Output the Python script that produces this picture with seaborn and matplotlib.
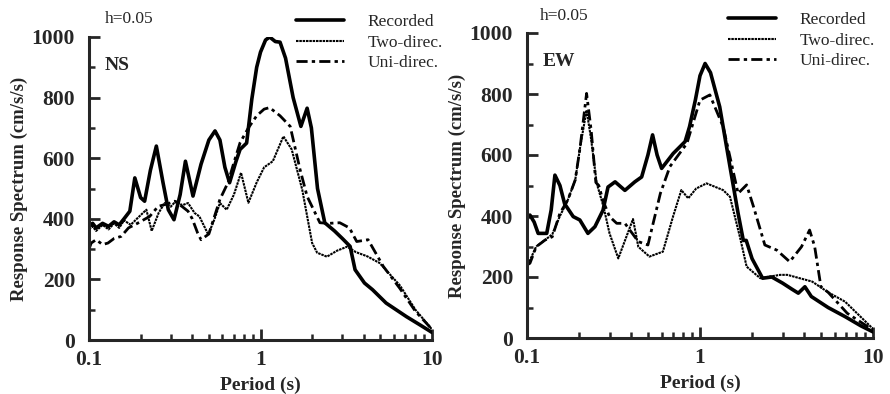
import numpy as np
import pandas as pd
import matplotlib
matplotlib.use("Agg")
import matplotlib.pyplot as plt
import seaborn as sns
from matplotlib.ticker import FixedLocator, LogLocator, NullFormatter, MultipleLocator

# ---------------- data ----------------
ns_rec_T = [0.10, 0.105, 0.11, 0.12, 0.13, 0.14, 0.15, 0.16, 0.173, 0.185, 0.20, 0.211, 0.228, 0.247,
            0.27, 0.29, 0.313, 0.34, 0.365, 0.385, 0.404, 0.45, 0.50, 0.543, 0.58, 0.62, 0.66, 0.72,
            0.76, 0.83, 0.89, 0.95, 1.0, 1.07, 1.13, 1.22, 1.30, 1.40, 1.55, 1.72, 1.87, 1.98, 2.15,
            2.37, 2.7, 3.0, 3.33, 3.56, 4.04, 4.5, 5.4, 7.1, 8.5, 10.0]
ns_rec_v = [375, 385, 370, 385, 375, 390, 380, 400, 425, 535, 470, 458, 560, 640,
            520, 430, 397, 480, 590, 530, 475, 580, 660, 690, 660, 570, 519, 590,
            629, 650, 795, 900, 950, 990, 1000, 985, 983, 930, 800, 705, 765, 700, 500,
            387, 360, 335, 309, 232, 188, 166, 122, 77, 50, 25]

ns_two_T = [0.10, 0.105, 0.11, 0.12, 0.13, 0.14, 0.15, 0.16, 0.175, 0.19, 0.216, 0.232, 0.255, 0.276,
            0.30, 0.32, 0.35, 0.378, 0.413, 0.44, 0.496, 0.54, 0.58, 0.635, 0.70, 0.77, 0.85, 0.95,
            1.05, 1.18, 1.36, 1.52, 1.75, 2.0, 2.14, 2.44, 2.8, 3.2, 3.6, 4.2, 4.95, 6.5, 8.0, 10.0]
ns_two_v = [365, 375, 360, 380, 365, 385, 370, 395, 380, 400, 430, 360, 420, 452,
            440, 458, 445, 452, 419, 408, 348, 400, 452, 430, 480, 552, 453, 520,
            570, 590, 672, 629, 497, 320, 288, 275, 295, 308, 290, 276, 254, 180, 100, 35]

ns_uni_T = [0.10, 0.103, 0.11, 0.12, 0.129, 0.14, 0.154, 0.17, 0.193, 0.226, 0.253, 0.29, 0.316,
            0.35, 0.378, 0.40, 0.43, 0.45, 0.50, 0.58, 0.647, 0.69, 0.76, 0.85, 0.95, 1.05, 1.13,
            1.3, 1.49, 1.7, 1.87, 2.22, 2.5, 2.9, 3.3, 3.64, 4.24, 5.2, 6.5, 8.0, 10.0]
ns_uni_v = [300, 320, 331, 315, 320, 335, 342, 370, 386, 408, 441, 450, 458,
            440, 425, 400, 353, 331, 350, 464, 520, 574, 651, 700, 740, 762, 767,
            740, 705, 563, 474, 387, 385, 387, 370, 325, 331, 243, 170, 95, 35]

ew_rec_T = [0.10, 0.104, 0.11, 0.116, 0.13, 0.138, 0.145, 0.155, 0.165, 0.185, 0.202, 0.225, 0.247,
            0.275, 0.294, 0.323, 0.368, 0.42, 0.46, 0.50, 0.532, 0.565, 0.60, 0.70, 0.82, 0.87,
            0.94, 1.0, 1.07, 1.15, 1.3, 1.49, 1.66, 1.78, 1.85, 2.0, 2.3, 2.6, 3.0, 3.4, 3.7,
            4.04, 4.4, 5.5, 6.9, 8.5, 10.0]
ew_rec_v = [390, 403, 380, 343, 343, 420, 534, 500, 440, 398, 387, 343, 365,
            419, 495, 512, 484, 512, 528, 600, 666, 600, 556, 605, 644, 693,
            780, 860, 900, 870, 758, 562, 409, 320, 320, 260, 196, 200, 180, 160, 147,
            168, 136, 100, 70, 40, 20]

ew_two_T = [0.10, 0.105, 0.113, 0.127, 0.14, 0.155, 0.172, 0.19, 0.203, 0.221, 0.235, 0.253, 0.277,
            0.30, 0.337, 0.38, 0.41, 0.44, 0.51, 0.61, 0.70, 0.78, 0.855, 0.95, 1.09, 1.36, 1.49,
            1.7, 1.86, 2.23, 2.9, 3.2, 4.45, 5.5, 6.9, 10.0]
ew_two_v = [230, 260, 300, 321, 340, 400, 452, 518, 627, 747, 650, 507, 430,
            343, 261, 340, 390, 299, 267, 283, 400, 485, 458, 490, 507, 485, 463,
            332, 234, 196, 207, 207, 185, 150, 119, 30]

ew_uni_T = [0.10, 0.104, 0.113, 0.127, 0.14, 0.155, 0.172, 0.19, 0.203, 0.221, 0.235, 0.25, 0.26,
            0.275, 0.30, 0.33, 0.368, 0.44, 0.50, 0.59, 0.67, 0.84, 1.0, 1.14, 1.36, 1.49, 1.66,
            1.86, 2.04, 2.37, 2.78, 3.3, 3.86, 4.3, 4.6, 5.0, 5.5, 7.1, 10.0]
ew_uni_v = [240, 245, 299, 321, 332, 409, 452, 518, 627, 802, 680, 510, 500,
            450, 398, 376, 376, 316, 305, 474, 562, 638, 780, 797, 693, 594, 474,
            502, 430, 305, 288, 250, 299, 354, 300, 168, 150, 81, 26]

series_names = ["Recorded", "Two-direc.", "Uni-direc."]
panel_labels = ["NS", "EW"]
y_ticks = [0, 200, 400, 600, 800, 1000]
x_ticks = [0.1, 1, 10]
x_ticklabels = ["0.1", "1", "10"]

# ---------------- style ----------------
sns.set_style("ticks")
plt.rcParams["font.family"] = ["Liberation Serif", "DejaVu Serif"]
plt.rcParams["axes.linewidth"] = 2.2

styles = {
    "Recorded": dict(color="black", linewidth=2.6, linestyle="-"),
    "Two-direc.": dict(color="black", linewidth=1.5, linestyle=(0, (1.2, 0.4))),
    "Uni-direc.": dict(color="black", linewidth=2.0, linestyle=(0, (4, 1.5, 1.2, 1.5))),
}

fig = plt.figure(figsize=(8.9, 3.94), dpi=100)
axL = fig.add_axes([89 / 890, 1 - 340 / 394, (432 - 89) / 890, (340 - 37) / 394])
axR = fig.add_axes([527 / 890, 1 - 338 / 394, (873 - 527) / 890, (338 - 33) / 394])

panels = [
    (axL, [(ns_rec_T, ns_rec_v), (ns_two_T, ns_two_v), (ns_uni_T, ns_uni_v)], panel_labels[0]),
    (axR, [(ew_rec_T, ew_rec_v), (ew_two_T, ew_two_v), (ew_uni_T, ew_uni_v)], panel_labels[1]),
]

for ax, data, lab in panels:
    for name, (T, v) in zip(series_names, data):
        df = pd.DataFrame({"Period": T, "SA": v})
        sns.lineplot(data=df, x="Period", y="SA", ax=ax, label=name,
                     estimator=None, sort=False, **styles[name])
    ax.set_xscale("log")
    ax.set_xlim(0.1, 10)
    ax.set_ylim(0, 1000)
    sns.despine(ax=ax)
    ax.spines["left"].set_bounds(0, 1000)
    ax.xaxis.set_major_locator(FixedLocator(x_ticks))
    ax.set_xticklabels(x_ticklabels)
    ax.xaxis.set_minor_locator(LogLocator(base=10, subs=np.arange(2, 10)))
    ax.xaxis.set_minor_formatter(NullFormatter())
    ax.yaxis.set_major_locator(FixedLocator(y_ticks))
    ax.yaxis.set_minor_locator(MultipleLocator(100))
    ax.tick_params(axis="both", which="major", direction="in", length=8, width=2,
                   labelsize=15.5)
    ax.tick_params(axis="y", which="major", pad=10)
    ax.tick_params(axis="x", which="major", pad=7)
    ax.tick_params(axis="both", which="minor", direction="in", length=4.5, width=1.8)
    for t in ax.get_xticklabels() + ax.get_yticklabels():
        t.set_fontweight("bold")
    ax.set_xlabel("Period (s)", fontsize=14, fontweight="bold", labelpad=5)
    ax.set_ylabel("Response Spectrum (cm/s/s)", fontsize=13.5, fontweight="bold", labelpad=3)
    ax.text(0.045, 0.905, lab, transform=ax.transAxes, fontsize=14, fontweight="bold",
            ha="left", va="center")
    ax.get_legend().remove()

fig.text(105 / 890, 1 - 19 / 394, "h=0.05", fontsize=12.5, ha="left", va="center")
fig.text(540 / 890, 1 - 16 / 394, "h=0.05", fontsize=12.5, ha="left", va="center")

for ax, x0, y0 in [(axL, 284 / 890, 1 - 2 / 394), (axR, 716 / 890, 1 + 0 / 394)]:
    h, l = ax.get_legend_handles_labels()
    fig.legend(h, l, loc="upper left", bbox_to_anchor=(x0, y0), frameon=False,
               fontsize=12.5, handlelength=2.75, handletextpad=1.35,
               labelspacing=0.24, borderpad=0.2)

fig.savefig("out.png", dpi=100)
